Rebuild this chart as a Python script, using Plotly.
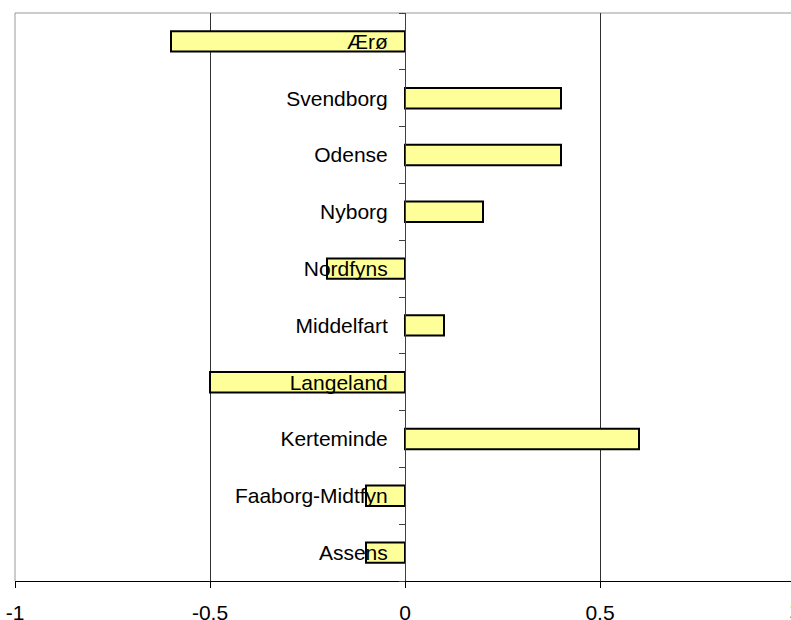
import plotly.graph_objects as go

categories = ["Assens", "Faaborg-Midtfyn", "Kerteminde", "Langeland", "Middelfart",
              "Nordfyns", "Nyborg", "Odense", "Svendborg", "Ærø"]
values = [-0.1, -0.1, 0.6, -0.5, 0.1, -0.2, 0.2, 0.4, 0.4, -0.6]
x_ticks = [-1, -0.5, 0, 0.5, 1]
x_tick_labels = ["-1", "-0.5", "0", "0.5", "1"]

FONT = "Liberation Sans, Arial, sans-serif"
W, H = 791, 620
L, R, T, B = 15, 0, 13, 39
plot_w = W - L - R
px_per_unit = 390.0
x_min = -1.0
x_max = x_min + plot_w / px_per_unit

fig = go.Figure()
fig.add_trace(go.Bar(
    y=categories, x=values, orientation="h",
    marker=dict(color="#FFFF99", line=dict(color="black", width=2)),
    width=0.36,
))

zero_pos = (0 - x_min) / (x_max - x_min)
one_pos = (1 - x_min) / (x_max - x_min)

fig.update_layout(
    width=W, height=H,
    margin=dict(l=L, r=R, t=T, b=B, pad=0, autoexpand=False),
    paper_bgcolor="white", plot_bgcolor="white",
    showlegend=False,
    font=dict(family=FONT, size=21, color="black"),
    xaxis=dict(
        range=[x_min, x_max],
        tickvals=x_ticks, ticktext=x_tick_labels,
        showgrid=True, gridcolor="#303030", gridwidth=1,
        zeroline=False,
        showline=True, linecolor="black", linewidth=1,
        ticks="outside", ticklen=6, tickcolor="black", tickwidth=1,
        ticklabelstandoff=7,
        automargin=False,
        tickfont=dict(family=FONT, size=21, color="black"),
        fixedrange=True,
    ),
    yaxis=dict(
        type="category",
        categoryorder="array", categoryarray=categories,
        range=[-0.5, len(categories) - 0.5],
        anchor="free", position=zero_pos,
        showgrid=False, zeroline=False,
        showline=True, linecolor="#404040", linewidth=1,
        ticks="outside", ticklen=6, tickcolor="#404040", tickwidth=1,
        tickson="boundaries",
        ticklabelstandoff=13,
        automargin=False,
        tickfont=dict(family=FONT, size=21, color="black"),
        fixedrange=True,
    ),
    shapes=[
        dict(type="line", xref="paper", yref="paper", x0=0, x1=1, y0=1, y1=1,
             line=dict(color="#999999", width=1), layer="below"),
        dict(type="line", xref="paper", yref="paper", x0=0, x1=0, y0=0, y1=1,
             line=dict(color="#999999", width=1), layer="below"),
    ],
    annotations=[
        dict(xref="paper", yref="paper", x=one_pos, y=0, yanchor="top",
             xanchor="center", yshift=-16, text=x_tick_labels[-1], showarrow=False,
             font=dict(family=FONT, size=21, color="black")),
    ],
)

fig.write_html("out.html")
